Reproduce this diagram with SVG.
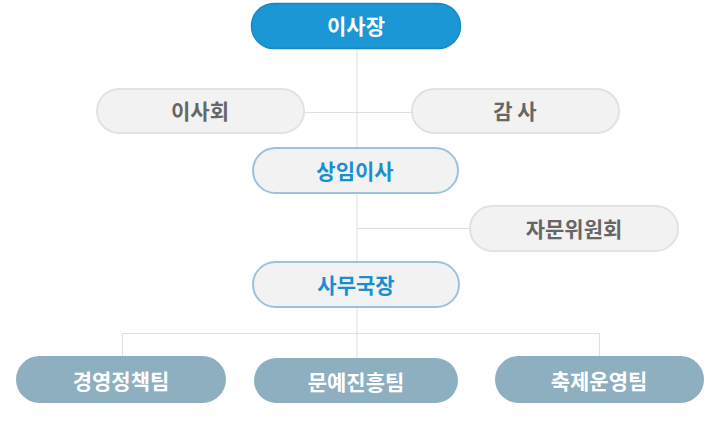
<svg xmlns="http://www.w3.org/2000/svg" width="720" height="444" viewBox="0 0 720 444">
<style>
text{font-family:"Noto Sans CJK KR","Noto Sans",sans-serif;font-size:21px;font-weight:700;text-anchor:middle;dominant-baseline:central}
.top rect{fill:#1a97d4;stroke:#1789c4;stroke-width:1.5}
.top text{fill:#fff}
.side rect{fill:#f2f2f2;stroke:#e2e2e2;stroke-width:2}
.side text{fill:#666}
.mid rect{fill:#f2f2f2;stroke:#9cc4d9;stroke-width:2}
.mid text{fill:#1a8fd0}
.team rect{fill:#8eafc0}
.team text{fill:#fff}
.conn line{stroke:#e0e0e0;stroke-width:1}
</style>
<g class="conn" id="connectors">
<line x1="357" y1="48" x2="357" y2="358"/>
<line x1="304" y1="112.5" x2="412" y2="112.5"/>
<line x1="357" y1="228.5" x2="470" y2="228.5"/>
<line x1="122" y1="333.5" x2="599" y2="333.5"/>
<line x1="122.5" y1="333" x2="122.5" y2="356"/>
<line x1="599.5" y1="333" x2="599.5" y2="356"/>
</g>
<g id="chairman" class="top"><rect x="251.5" y="3.5" width="209" height="45" rx="22.5"/><text x="356" y="25">이사장</text></g>
<g id="board" class="side"><rect x="97" y="89" width="207" height="44" rx="22"/><text x="200" y="110">이사회</text></g>
<g id="audit" class="side"><rect x="412" y="89" width="207" height="44" rx="22"/><text x="515" y="110">감 사</text></g>
<g id="standing" class="mid"><rect x="253" y="148" width="205" height="45" rx="22.5"/><text x="355" y="170">상임이사</text></g>
<g id="advisory" class="side"><rect x="470" y="206" width="208" height="45" rx="22.5"/><text x="574" y="228">자문위원회</text></g>
<g id="secretary" class="mid"><rect x="253" y="262" width="206" height="45" rx="22.5"/><text x="356" y="284">사무국장</text></g>
<g id="team1" class="team"><rect x="16" y="356" width="210" height="47" rx="23.5"/><text x="121" y="380">경영정책팀</text></g>
<g id="team2" class="team"><rect x="254" y="358" width="204" height="45" rx="22.5"/><text x="356" y="381">문예진흥팀</text></g>
<g id="team3" class="team"><rect x="495" y="356" width="209" height="47" rx="23.5"/><text x="599" y="380">축제운영팀</text></g>
</svg>
